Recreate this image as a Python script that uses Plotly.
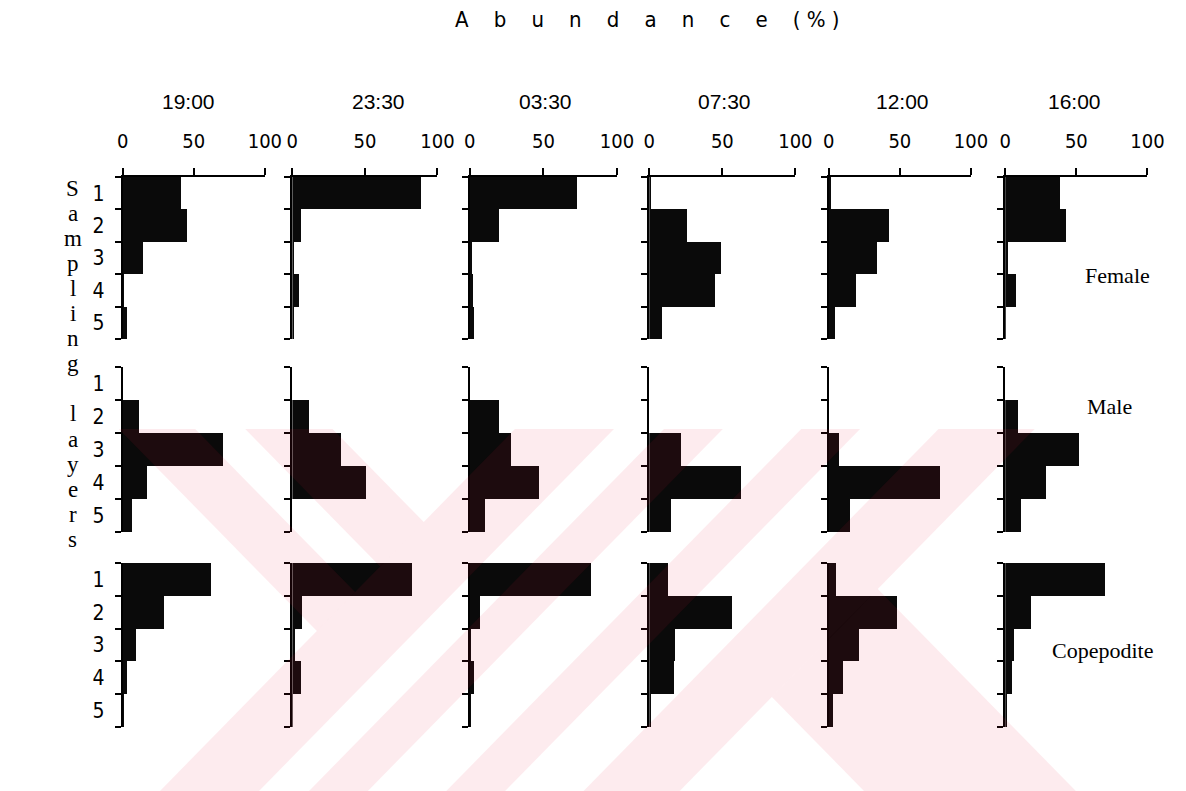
import plotly.graph_objects as go

W, H = 1186, 791

# ---- data: abundance (%) per sampling layer, for each time and stage ----
times = ["19:00", "23:30", "03:30", "07:30", "12:00", "16:00"]
stages = ["Female", "Male", "Copepodite"]
layers = [1, 2, 3, 4, 5]
x_ticks = [0, 50, 100]

female = [
    [41, 45, 14, 0.5, 3],     # 19:00
    [89, 6, 1, 5, 1],         # 23:30
    [73, 20, 1, 2, 3],        # 03:30
    [1, 26, 49, 45, 9],       # 07:30
    [1, 42, 34, 19, 4],       # 12:00
    [39, 43, 2, 8, 0.5],      # 16:00
]
male = [
    [0, 11, 70, 17, 6],
    [0, 12, 34, 51, 0],
    [0, 20, 28, 47, 10],
    [0, 0, 22, 63, 15],
    [0, 0, 7, 78, 15],
    [0, 9, 52, 29, 11],
]
copepodite = [
    [62, 29, 9, 3, 0.5],
    [83, 7, 2, 6, 0.5],
    [82, 7, 0.5, 3, 0.5],
    [13, 57, 18, 17, 1],
    [5, 48, 21, 10, 3],
    [70, 18, 6, 5, 1],
]
series = [female, male, copepodite]

# ---- panel geometry (pixels) ----
col_px = [(119, 264), (292, 440), (473, 623), (656, 805), (839, 984), (1019, 1164)]
row_px = [(177, 339), (367, 532), (563, 727)]


def px(x):
    return x / W


def py(y):
    return 1 - y / H


NARROW = "Liberation Sans Narrow, DejaVu Sans Condensed, Arial Narrow, sans-serif"
SANS = "Liberation Sans, Arial, sans-serif"
SERIF = "Liberation Serif, Times New Roman, serif"

fig = go.Figure()
layout = {}

for r, data in enumerate(series):
    for c, vals in enumerate(data):
        k = r * 6 + c + 1
        xa = "x" if k == 1 else f"x{k}"
        ya = "y" if k == 1 else f"y{k}"
        fig.add_trace(go.Bar(
            x=vals, y=layers, orientation="h", width=1,
            marker=dict(color="#0a0a0a", line=dict(width=0)),
            xaxis=xa, yaxis=ya, showlegend=False, hoverinfo="x+y",
        ))
        x0, x1 = col_px[c]
        y0, y1 = row_px[r]
        xkey = "xaxis" if k == 1 else f"xaxis{k}"
        ykey = "yaxis" if k == 1 else f"yaxis{k}"
        xdict = dict(domain=[px(x0), px(x1)], range=[0, 100], anchor=ya,
                     showgrid=False, zeroline=False, fixedrange=True)
        if r == 0:
            xdict.update(side="top", showline=True, linecolor="black", linewidth=2,
                         tickmode="array", tickvals=x_ticks,
                         ticktext=[str(t) for t in x_ticks],
                         ticks="outside", ticklen=7, tickwidth=2, tickcolor="black",
                         tickfont=dict(family=NARROW, size=20, color="black"),
                         ticklabelstandoff=12)
        else:
            xdict.update(visible=False)
        layout[xkey] = xdict
        layout[ykey] = dict(
            domain=[py(y1), py(y0)], range=[5.5, 0.5], anchor=xa,
            showline=True, linecolor="black", linewidth=2,
            showgrid=False, zeroline=False, fixedrange=True,
            tickmode="array", tickvals=layers,
            ticktext=[str(l) for l in layers] if c == 0 else [""] * 5,
            ticks="", ticklabelstandoff=12,
            tickfont=dict(family=NARROW, size=21, color="black"),
            minor=dict(tickmode="array", tickvals=[0.5, 1.5, 2.5, 3.5, 4.5, 5.5],
                       ticks="outside", ticklen=6, tickwidth=2, tickcolor="black",
                       showgrid=False),
        )

annotations = []
gap = "&nbsp;" * 3 + " "
title = gap.join(list("Abundance")) + gap + "(&nbsp;%&nbsp;)"
annotations.append(dict(text=title, x=px(654), y=py(20),
                        font=dict(family=NARROW, size=22, color="black")))
time_x = [186, 380, 550, 733, 914, 1090]
for t, tx in zip(times, time_x):
    annotations.append(dict(text=t, x=px(tx), y=py(101),
                            font=dict(family=SANS, size=21, color="black")))

# vertical axis title, one letter per line
side_title = "Sampling layers"
row_step = 25.1
line = 0
for ch in side_title:
    if ch != " ":
        annotations.append(dict(text=ch, x=px(68), y=py(188 + line * row_step),
                                font=dict(family=SERIF, size=23, color="black")))
    line += 1

label_pos = [(1133, 275), (1125, 407), (1118, 650)]
for s, (lx, ly) in zip(stages, label_pos):
    annotations.append(dict(text=s, x=px(lx), y=py(ly),
                            font=dict(family=SERIF, size=22, color="black")))
for a in annotations:
    a.update(xref="paper", yref="paper", xanchor="center", yanchor="middle",
             showarrow=False)


# ---- faint diagonal watermark (translucent pink lattice over the lower half) ----
def clip(poly, a, b, cval):
    """Keep the part of a convex polygon where a*x + b*y <= cval."""
    out = []
    n = len(poly)
    for i in range(n):
        p, q = poly[i], poly[(i + 1) % n]
        fp = a * p[0] + b * p[1] - cval
        fq = a * q[0] + b * q[1] - cval
        if fp <= 0:
            out.append(p)
        if fp * fq < 0:
            t = fp / (fp - fq)
            out.append((p[0] + t * (q[0] - p[0]), p[1] + t * (q[1] - p[1])))
    return out


WM_TOP = 429
# cells as (u_lo, u_hi, v_lo, v_hi) with u = x + y and v = x - y, in pixels
wm_cells = [
    (None, 948, -314, -236),
    (None, 948, -185, -96),
    (948, 1049, None, None),
    (1100, 1160, None, None),
    (1240, 1300, None, None),
    (1380, 1478, None, None),
    (1478, None, 84, 300),
]
shapes = []
for ulo, uhi, vlo, vhi in wm_cells:
    poly = [(0, WM_TOP), (W, WM_TOP), (W, H), (0, H)]
    if ulo is not None:
        poly = clip(poly, -1, -1, -ulo)
    if uhi is not None:
        poly = clip(poly, 1, 1, uhi)
    if vlo is not None:
        poly = clip(poly, -1, 1, -vlo)
    if vhi is not None:
        poly = clip(poly, 1, -1, vhi)
    if len(poly) < 3:
        continue
    path = "M " + " L ".join(f"{px(x):.5f},{py(y):.5f}" for x, y in poly) + " Z"
    shapes.append(dict(type="path", path=path, xref="paper", yref="paper",
                       fillcolor="rgba(232,23,58,0.086)", line=dict(width=0),
                       layer="above"))

fig.update_layout(
    width=W, height=H, margin=dict(l=0, r=0, t=0, b=0),
    paper_bgcolor="white", plot_bgcolor="rgba(0,0,0,0)",
    bargap=0, showlegend=False,
    annotations=annotations, shapes=shapes,
    **layout,
)

fig.write_html("out.html")
